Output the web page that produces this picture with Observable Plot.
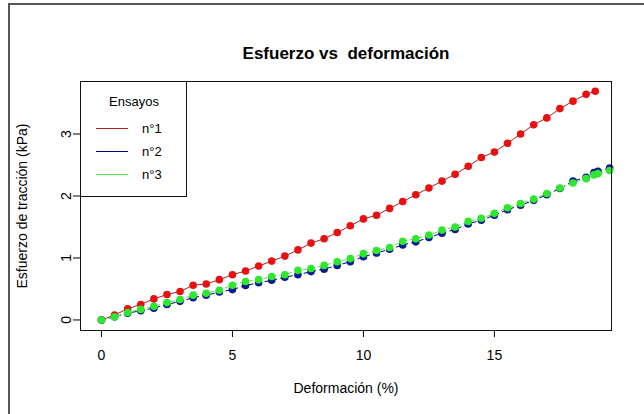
<!DOCTYPE html>
<html>
<head>
<meta charset="utf-8">
<script src="https://cdn.jsdelivr.net/npm/d3@7"></script>
<script src="https://cdn.jsdelivr.net/npm/@observablehq/plot@0.6"></script>
<style>
  html, body { margin: 0; padding: 0; background: #fff; }
  #chart { position: relative; width: 644px; height: 414px; }
  svg { font-family: "Liberation Sans", Arial, sans-serif; overflow: visible; }
</style>
</head>
<body>
<div id="chart"></div>
<script>
// ---- data ----
const chartTitle = "Esfuerzo vs\u00a0 deformación";
const xLabel = "Deformación (%)";
const yLabel = "Esfuerzo de tracción (kPa)";
const legendTitle = "Ensayos";
const seriesNames = ["n°1", "n°2", "n°3"];
const xTicks = [0, 5, 10, 15];
const yTicks = [0, 1, 2, 3];

const x1 = [0,0.5,1,1.5,2,2.5,3,3.5,4,4.5,5,5.5,6,6.5,7,7.5,8,8.5,9,9.5,10,10.5,11,11.5,12,12.5,13,13.5,14,14.5,15,15.5,16,16.5,17,17.5,18,18.5,18.85];
const y1 = [0,0.08,0.18,0.25,0.34,0.41,0.46,0.56,0.58,0.65,0.73,0.79,0.87,0.95,1.03,1.13,1.24,1.31,1.41,1.52,1.63,1.69,1.80,1.91,2.02,2.13,2.24,2.35,2.48,2.62,2.71,2.85,3.00,3.15,3.26,3.41,3.53,3.64,3.69];

const x2 = [0,0.5,1,1.5,2,2.5,3,3.5,4,4.5,5,5.5,6,6.5,7,7.5,8,8.5,9,9.5,10,10.5,11,11.5,12,12.5,13,13.5,14,14.5,15,15.5,16,16.5,17,17.5,18,18.5,18.8,18.95,19.4];
const y2 = [0,0.05,0.11,0.15,0.19,0.25,0.30,0.36,0.40,0.45,0.49,0.556,0.60,0.64,0.69,0.73,0.78,0.82,0.88,0.94,1.02,1.08,1.14,1.21,1.26,1.33,1.40,1.46,1.55,1.61,1.69,1.78,1.85,1.93,2.02,2.12,2.24,2.30,2.38,2.40,2.45];

const x3 = [0,0.5,1,1.5,2,2.5,3,3.5,4,4.5,5,5.5,6,6.5,7,7.5,8,8.5,9,9.5,10,10.5,11,11.5,12,12.5,13,13.5,14,14.5,15,15.5,16,16.5,17,17.5,18,18.5,18.8,18.95,19.4];
const y3 = [0,0.05,0.12,0.17,0.22,0.28,0.33,0.40,0.43,0.48,0.56,0.62,0.65,0.70,0.73,0.80,0.83,0.88,0.94,0.99,1.07,1.12,1.17,1.27,1.31,1.37,1.45,1.50,1.59,1.64,1.72,1.81,1.88,1.95,2.04,2.13,2.21,2.28,2.34,2.36,2.41];

const lineColors = ["#b02020", "#000080", "#55dd55"];
const pointColors = ["#e81010", "#0a1a90", "#2ee82e"];
const dashes = [null, "4,4", "4,4"];

// ---- build table ----
const series = [
  x1.map((x, i) => ({x, y: y1[i]})),
  x2.map((x, i) => ({x, y: y2[i]})),
  x3.map((x, i) => ({x, y: y3[i]}))
];

const marks = [];
series.forEach((d, k) => {
  marks.push(Plot.line(d, {x: "x", y: "y", stroke: lineColors[k], strokeWidth: 1, strokeDasharray: dashes[k]}));
  marks.push(Plot.dot(d, {x: "x", y: "y", r: 3.8, fill: pointColors[k], stroke: "none"}));
});

const plot = Plot.plot({
  width: 644,
  height: 414,
  marginLeft: 80,
  marginRight: 33,
  marginTop: 81,
  marginBottom: 84,
  style: {fontFamily: "Liberation Sans, Arial, sans-serif", background: "transparent", color: "#000"},
  x: {domain: [-0.8, 19.47]},
  y: {domain: [-0.17, 3.847]},
  marks: [
    Plot.axisX({ticks: xTicks, tickSize: 7, tickPadding: 13, fontSize: 14, label: null}),
    Plot.axisY({ticks: yTicks, tickSize: 7, tickFormat: () => "", label: null}),
    Plot.text(yTicks, {y: d => d, text: d => String(d), frameAnchor: "left", dx: -14, rotate: -90, fontSize: 14, textAnchor: "middle"}),
    ...marks,
    Plot.frame({stroke: "#111", strokeWidth: 1}),
    Plot.text([chartTitle], {frameAnchor: "top", dy: -35, fontSize: 17, fontWeight: "bold"}),
    Plot.text([xLabel], {frameAnchor: "bottom", dy: 62, fontSize: 14}),
    Plot.text([yLabel], {frameAnchor: "left", dx: -58, rotate: -90, fontSize: 14, textAnchor: "middle"})
  ]
});

document.getElementById("chart").appendChild(plot);

// ---- legend box (R style, top-left of plot region) ----
const svg = d3.select(plot);
const lg = svg.append("g");
lg.append("rect").attr("x", 80.5).attr("y", 81.5).attr("width", 106).attr("height", 115)
  .attr("fill", "#fff").attr("stroke", "#111").attr("stroke-width", 1);
lg.append("text").attr("x", 134).attr("y", 101.5).attr("dy", "0.35em").attr("text-anchor", "middle")
  .attr("font-size", 13).attr("fill", "#000").text(legendTitle);
seriesNames.forEach((name, i) => {
  const yy = 128.5 + i * 23;
  lg.append("line").attr("x1", 96).attr("x2", 128).attr("y1", yy).attr("y2", yy)
    .attr("stroke", lineColors[i]).attr("stroke-width", 1);
  lg.append("text").attr("x", 142).attr("y", yy).attr("dy", "0.35em").attr("text-anchor", "start")
    .attr("font-size", 13).attr("fill", "#000").text(name);
});

// ---- outer screenshot border ----
svg.append("path").attr("d", "M9,414V4H644").attr("fill", "none")
  .attr("stroke", "#555").attr("stroke-width", 2);
</script>
</body>
</html>
